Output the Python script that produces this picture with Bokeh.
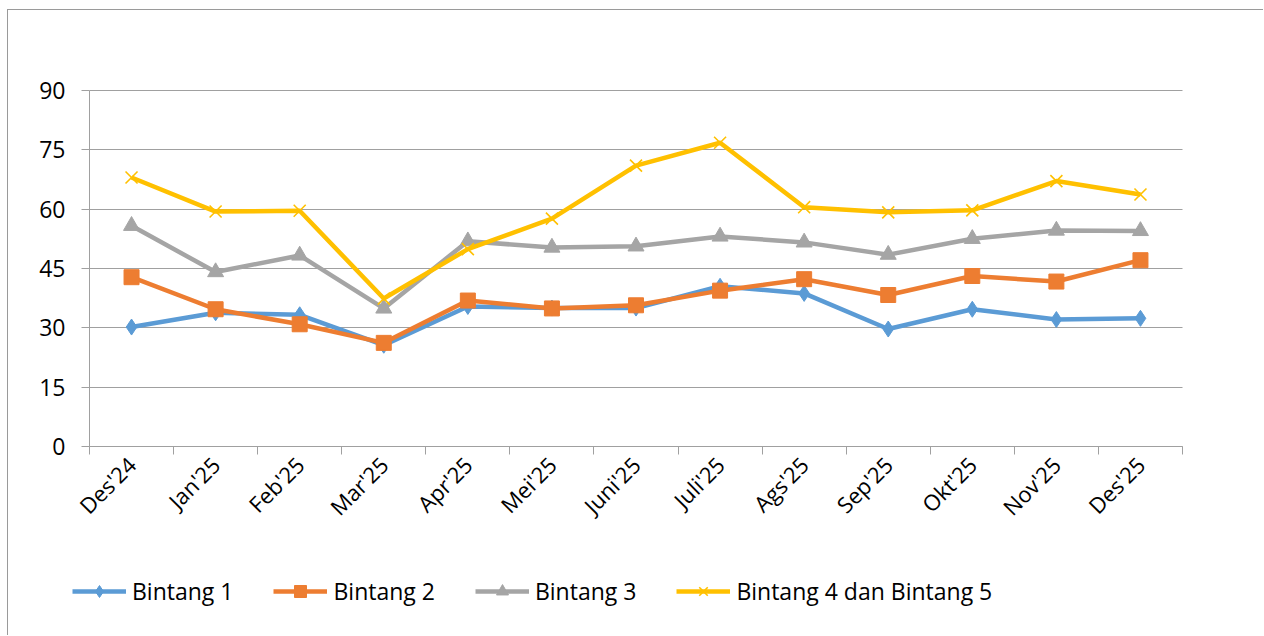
import math
from bokeh.plotting import figure
from bokeh.models import Range1d, FixedTicker, Legend, LegendItem
from bokeh.embed import file_html
from bokeh.resources import INLINE

months = ["Des'24", "Jan'25", "Feb'25", "Mar'25", "Apr'25", "Mei'25", "Juni'25",
          "Juli'25", "Ags'25", "Sep'25", "Okt'25", "Nov'25", "Des'25"]
bintang1 = [30.2, 33.8, 33.3, 25.6, 35.4, 35.0, 35.0, 40.5, 38.7, 29.7, 34.7, 32.1, 32.4]
bintang2 = [42.8, 34.7, 30.9, 26.2, 36.9, 34.9, 35.7, 39.4, 42.3, 38.3, 43.1, 41.7, 47.1]
bintang3 = [55.8, 44.1, 48.3, 34.9, 51.9, 50.3, 50.6, 53.1, 51.6, 48.5, 52.5, 54.6, 54.5]
bintang45 = [68.0, 59.4, 59.6, 37.4, 49.9, 57.6, 71.0, 76.8, 60.5, 59.2, 59.7, 67.1, 63.7]
yticks = [0, 15, 30, 45, 60, 75, 90]
series_names = ["Bintang 1", "Bintang 2", "Bintang 3", "Bintang 4 dan Bintang 5"]

FONT = "Open Sans"
GRID = "#a0a0a0"

n = len(months)
xs = [i + 0.5 for i in range(n)]

# canvas 1256x626 placed at page (8,10); plot area spans px 89..1182 x 90..446
W, H = 1256, 626
ox, oy = 8, 10
pl, pr, pt, pb = 89, 1182, 90, 446
ppx = (pr - pl) / n
ppy = (pb - pt) / 90.0
x_range = Range1d(-(pl - ox) / ppx, n + (ox + W - pr) / ppx)
y_range = Range1d(-(oy + H - pb) / ppy, 90 + (pt - oy) / ppy)

p = figure(width=W, height=H, output_backend="svg", toolbar_location=None,
           x_range=x_range, y_range=y_range, min_border=0)
p.title.visible = False
p.outline_line_color = None
p.styles = {"margin-left": "7px", "margin-top": "9px",
            "border-top": "1px solid #9a9a9a", "border-left": "1px solid #9a9a9a"}

# x axis at y=0
xa = p.xaxis[0]
xa.fixed_location = 0
xa.bounds = (0, n)
xa.ticker = FixedTicker(ticks=xs, minor_ticks=list(range(n + 1)))
xa.major_label_overrides = {x: m for x, m in zip(xs, months)}
xa.major_label_orientation = math.pi / 4
xa.major_tick_out = 0
xa.major_tick_in = 0
xa.minor_tick_out = 8
xa.minor_tick_in = 0
xa.minor_tick_line_color = GRID
xa.axis_line_color = GRID
xa.major_label_standoff = 6
xa.major_label_text_font = FONT
xa.major_label_text_font_size = "22px"
xa.major_label_text_color = "#000000"

# y axis at x=0
ya = p.yaxis[0]
ya.fixed_location = 0
ya.bounds = (0, 90)
ya.ticker = FixedTicker(ticks=yticks)
ya.major_tick_out = 8
ya.major_tick_in = 0
ya.minor_tick_out = 0
ya.minor_tick_in = 0
ya.major_tick_line_color = GRID
ya.axis_line_color = GRID
ya.major_label_standoff = 16
ya.major_label_text_font = FONT
ya.major_label_text_font_size = "23px"
ya.major_label_text_color = "#000000"

p.xgrid.grid_line_color = None
p.ygrid.ticker = FixedTicker(ticks=yticks)
p.ygrid.bounds = (0, 90)
p.ygrid.cross_bounds = (0, n)
p.ygrid.grid_line_color = GRID
p.ygrid.grid_line_width = 1

items = []
specs = [
    (bintang1, "#5B9BD5", "diamond", 16, 1),
    (bintang2, "#ED7D31", "square", 15, 1),
    (bintang3, "#A5A5A5", "triangle", 16, 1),
    (bintang45, "#FFC000", "x", 17, 1.6),
]
for (vals, color, marker, size, lw), name in zip(specs, series_names):
    ln = p.line(xs, vals, line_color=color, line_width=4.5, line_join="round")
    if marker == "x":
        sc = p.scatter(xs, vals, marker=marker, size=size, line_color=color, line_width=lw)
    else:
        sc = p.scatter(xs, vals, marker=marker, size=size, fill_color=color, line_color=color)
    items.append(LegendItem(label=name, renderers=[ln, sc]))

legend = Legend(items=items, orientation="horizontal", location=(64, 29),
                padding=0, margin=0, spacing=40, glyph_width=54, glyph_height=30,
                label_height=30, label_standoff=6, border_line_color=None,
                background_fill_alpha=0, label_text_font=FONT,
                label_text_font_size="23px", label_text_color="#000000")
p.add_layout(legend, "center")

open("out.html", "w").write(file_html(p, INLINE))
